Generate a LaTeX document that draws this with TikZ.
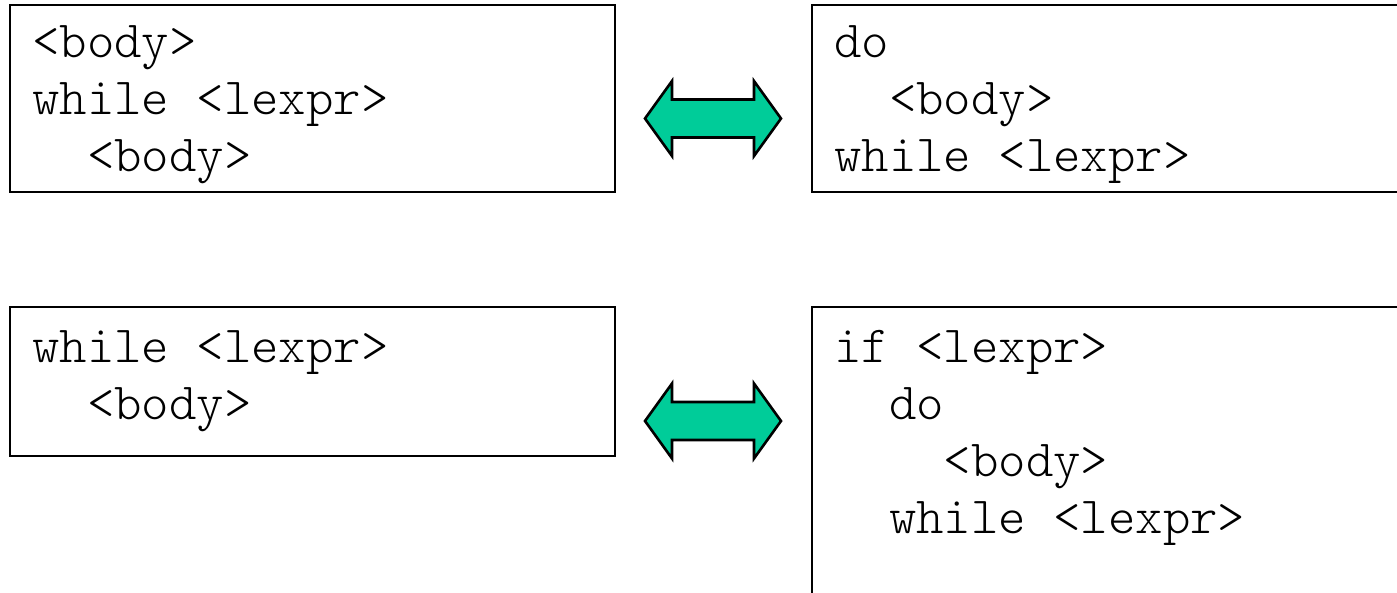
\documentclass[tikz,border=0pt]{standalone}
\usepackage{fontspec}
\newfontfamily\codefont{Latin Modern Mono Light}
\definecolor{arrowgreen}{RGB}{0,204,153}
\begin{document}
\begin{tikzpicture}[x=1pt,y=-1pt,
  codebox/.style={draw=black, line width=2pt, anchor=north west, inner sep=0pt, outer sep=0pt},
  codeline/.style={anchor=base west, inner sep=0pt, font=\codefont\fontsize{52.2}{57}\selectfont},
  swaparrow/.style={draw=black, line width=2.6pt, fill=arrowgreen, line join=miter},
  twoway/.pic={
    \draw[swaparrow] (0,0) -- (27,-37.5) -- (27,-19) -- (109,-19) -- (109,-37.5)
      -- (136,0) -- (109,37.5) -- (109,19) -- (27,19) -- (27,37.5) -- cycle;
  }]
\useasboundingbox (0,0) rectangle (1397,592);

% frames of the four code fragments
\node[codebox, minimum width=605pt, minimum height=187pt] (boxA) at (10,5) {};
\node[codebox, minimum width=600pt, minimum height=187pt] (boxB) at (812,5) {};
\node[codebox, minimum width=605pt, minimum height=149pt] (boxC) at (10,307) {};
\node[codebox, minimum width=600pt, minimum height=300pt] (boxD) at (812,307) {};

% loop with the body copied in front
\node[codeline] (a1) at (32,57)  {<body>};
\node[codeline] (a2) at (32,114) {while <lexpr>};
\node[codeline] (a3) at (32,171) {\phantom{xx}<body>};

% do-while form
\node[codeline] (b1) at (834,57)  {do};
\node[codeline] (b2) at (834,114) {\phantom{xx}<body>};
\node[codeline] (b3) at (834,171) {while <lexpr>};

% plain while loop
\node[codeline] (c1) at (32,362) {while <lexpr>};
\node[codeline] (c2) at (32,419) {\phantom{xx}<body>};

% guarded do-while form
\node[codeline] (d1) at (834,362) {if <lexpr>};
\node[codeline] (d2) at (834,419) {\phantom{xx}do};
\node[codeline] (d3) at (834,476) {\phantom{xxxx}<body>};
\node[codeline] (d4) at (834,533) {\phantom{xx}while <lexpr>};

% equivalence arrows
\pic at (645,118.5) {twoway};
\pic at (645,421) {twoway};
\end{tikzpicture}
\end{document}
